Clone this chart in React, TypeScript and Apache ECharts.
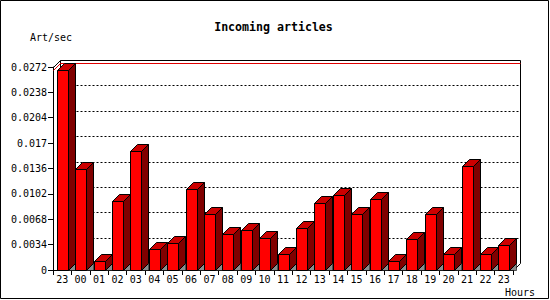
import React, { useEffect, useRef } from "react";
import * as echarts from "echarts";

const hours = ["23", "00", "01", "02", "03", "04", "05", "06", "07", "08", "09", "10", "11", "12", "13", "14", "15", "16", "17", "18", "19", "20", "21", "22", "23"];
const artPerSec = [0.0268, 0.0136, 0.0012, 0.0092, 0.0159, 0.0028, 0.0036, 0.0108, 0.0075, 0.0048, 0.0054, 0.0043, 0.0022, 0.0056, 0.009, 0.01, 0.0075, 0.0095, 0.0012, 0.0042, 0.0075, 0.0022, 0.0139, 0.0022, 0.0033];
const yTicks = [0, 0.0034, 0.0068, 0.0102, 0.0136, 0.017, 0.0204, 0.0238, 0.0272];
const yTickLabels = ["0", "0.0034", "0.0068", "0.0102", "0.0136", "0.017", "0.0204", "0.0238", "0.0272"];

const FONT = "DejaVu Sans Mono";
const D = 7;

export default function App() {
  const ref = useRef<HTMLDivElement>(null);
  useEffect(() => {
    const el = ref.current!;
    const chart = echarts.init(el, null, { renderer: "svg" });
    const option: any = {
      animation: false,
      backgroundColor: "#ffffff",
      grid: { left: 53, right: 37, top: 67, bottom: 30 },
      xAxis: {
        type: "category",
        data: hours,
        boundaryGap: true,
        axisLine: { show: true, lineStyle: { color: "#000", width: 1 } },
        axisTick: { show: true, length: 5, alignWithLabel: false, lineStyle: { color: "#000" } },
        axisLabel: { fontFamily: FONT, fontSize: 10, color: "#000", margin: 4, interval: 0 },
        splitLine: { show: false },
      },
      yAxis: {
        type: "value",
        min: 0,
        max: 0.0272,
        interval: 0.0034,
        axisLine: { show: true, lineStyle: { color: "#000", width: 1 } },
        axisTick: { show: true, length: 5, lineStyle: { color: "#000" } },
        axisLabel: {
          fontFamily: FONT,
          fontSize: 10,
          color: "#000",
          margin: 6,
          formatter: (v: number, i: number) => yTickLabels[i] ?? String(v),
        },
        splitLine: { show: false },
      },
      series: [
        {
          type: "custom",
          z: 5,
          data: artPerSec.map((v, i) => [i, v]),
          encode: { x: 0, y: 1 },
          renderItem: (params: any, api: any) => {
            const idx = api.value(0);
            const v = api.value(1);
            const top = api.coord([idx, v]);
            const base = api.coord([idx, 0]);
            const xl = Math.round(top[0] - 5.5) + 0.5;
            const xr = xl + 11;
            const yt = Math.round(top[1]) + 0.5;
            const yb = Math.round(base[1]) + 0.5;
            const ls = { stroke: "#000", lineWidth: 1 };
            return {
              type: "group",
              children: [
                {
                  type: "polygon",
                  shape: { points: [[xr, yb], [xr + D, yb - D], [xr + D, yb]] },
                  style: { fill: "#8c8c8c", stroke: "#000", lineWidth: 0.6 },
                },
                {
                  type: "polygon",
                  shape: { points: [[xr, yt], [xr + D, yt - D], [xr + D, yb - D], [xr, yb]] },
                  style: { fill: "#800000", ...ls },
                },
                {
                  type: "polygon",
                  shape: { points: [[xl, yt], [xl + D, yt - D], [xr + D, yt - D], [xr, yt]] },
                  style: { fill: "#cc0000", ...ls },
                },
                {
                  type: "polygon",
                  shape: { points: [[xl, yt], [xr, yt], [xr, yb], [xl, yb]] },
                  style: { fill: "#ff0000", ...ls },
                },
              ],
            };
          },
        },
      ],
    };
    chart.setOption(option);

    const yPix = (v: number) => chart.convertToPixel({ yAxisIndex: 0 }, v) as number;
    const x0 = chart.convertToPixel({ xAxisIndex: 0 }, 0) as number;
    const x1 = chart.convertToPixel({ xAxisIndex: 0 }, 1) as number;
    const xn = chart.convertToPixel({ xAxisIndex: 0 }, hours.length - 1) as number;
    const cw = x1 - x0;
    const left = Math.round(x0 - cw / 2) + 0.5;
    const right = Math.round(xn + cw / 2) + 0.5;
    const yTop = Math.round(yPix(yTicks[yTicks.length - 1])) + 0.5;
    const yBot = Math.round(yPix(0)) + 0.5;
    const maxV = Math.max(...artPerSec);
    const yMax = Math.round(yPix(maxV)) + 0.5;

    const black = { stroke: "#000", lineWidth: 1 };
    const graphics: any[] = [];
    yTicks.slice(1, -1).forEach((t) => {
      const y = Math.round(yPix(t)) + 0.5 - D;
      graphics.push({
        type: "line",
        z: 1,
        shape: { x1: left + D, y1: y, x2: right + D, y2: y },
        style: { stroke: "#000", lineWidth: 1, lineDash: [2, 2] },
      });
    });
    graphics.push(
      { type: "line", z: 1, shape: { x1: left + D, y1: yTop - D, x2: right + D, y2: yTop - D }, style: black },
      { type: "line", z: 1, shape: { x1: right + D, y1: yTop - D, x2: right + D, y2: yBot - D }, style: black },
      { type: "line", z: 1, shape: { x1: left + D, y1: yTop - D, x2: left + D, y2: yBot - D }, style: black },
      { type: "line", z: 1, shape: { x1: left, y1: yTop, x2: left + D, y2: yTop - D }, style: black },
      { type: "line", z: 1, shape: { x1: right, y1: yBot, x2: right + D, y2: yBot - D }, style: black }
    );
    graphics.push(
      { type: "polyline", z: 1, shape: { points: [[left, yMax], [left + D, yMax - D], [right + D, yMax - D]] }, style: { stroke: "#e00000", lineWidth: 1, fill: null } }
    );
    graphics.push(
      { type: "text", z: 10, style: { text: "Incoming articles", x: 273.5, y: 27, textAlign: "center", verticalAlign: "middle", fontFamily: FONT, fontSize: 11.6, fontWeight: "bold", fill: "#000" } },
      { type: "text", z: 10, style: { text: "Art/sec", x: 30, y: 37, fontFamily: FONT, fontSize: 10, fill: "#000", verticalAlign: "middle" } },
      { type: "text", z: 10, style: { text: "Hours", x: 505, y: 292, fontFamily: FONT, fontSize: 10, fill: "#000", verticalAlign: "middle" } },
      { type: "rect", z: 10, shape: { x: 0.5, y: 0.5, width: 548, height: 298 }, style: { fill: null, stroke: "#000", lineWidth: 1 } }
    );
    chart.setOption({ graphic: graphics });

    return () => chart.dispose();
  }, []);
  return <div ref={ref} style={{ position: "fixed", left: 0, top: 0, width: 550, height: 300, background: "#fff" }} />;
}
